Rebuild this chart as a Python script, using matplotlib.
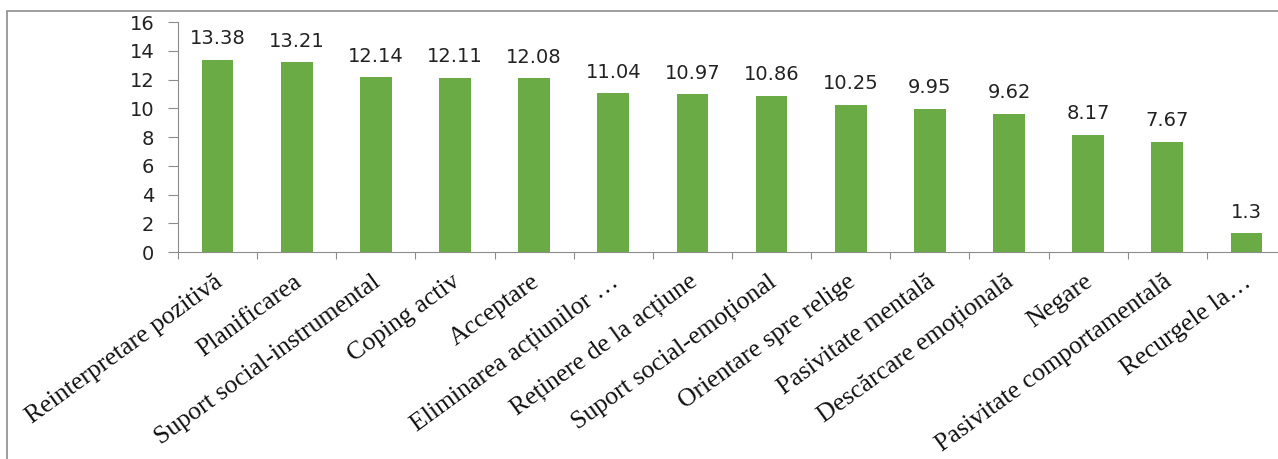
import matplotlib.pyplot as plt
from matplotlib.patches import Rectangle

# Data
categories = ['Reinterpretare pozitivă', 'Planificarea', 'Suport social-instrumental',
              'Coping activ', 'Acceptare', 'Eliminarea acțiunilor …', 'Reținere de la acțiune',
              'Suport social-emoțional', 'Orientare spre relige', 'Pasivitate mentală',
              'Descărcare emoțională', 'Negare', 'Pasivitate comportamentală', 'Recurgele la…']
values = [13.38, 13.21, 12.14, 12.11, 12.08, 11.04, 10.97, 10.86, 10.25, 9.95, 9.62, 8.17, 7.67, 1.3]
value_labels = ['13.38', '13.21', '12.14', '12.11', '12.08', '11.04', '10.97', '10.86',
                '10.25', '9.95', '9.62', '8.17', '7.67', '1.3']
yticks = [0, 2, 4, 6, 8, 10, 12, 14, 16]

W, H = 1278, 459
fig = plt.figure(figsize=(W / 100, H / 100), dpi=100)
fig.patch.set_facecolor('white')

# outer chart frame (cropped on right / bottom)
fig.patches.append(Rectangle((7 / W, -0.1), 1.2, 1.1 - 11 / H, transform=fig.transFigure,
                             fill=False, edgecolor='#8c8c8c', linewidth=1.2))

left, right = 178, 1286
top, bottom = 22, 252
ax = fig.add_axes([left / W, 1 - bottom / H, (right - left) / W, (bottom - top) / H])

x = range(len(values))
ax.bar(x, values, width=0.4, color='#6aab46')
for i, v in enumerate(values):
    ax.text(i, v + 0.8, value_labels[i], ha='center', va='bottom',
            fontsize=14, color='#222222', family='DejaVu Sans')

ax.set_xlim(-0.5, len(values) - 0.5)
ax.set_ylim(0, 16)
ax.set_yticks(yticks)
ax.set_yticklabels([str(t) for t in yticks], fontsize=14, family='DejaVu Sans')

# category boundary ticks
ax.set_xticks([i - 0.5 for i in range(len(values) + 1)])
ax.set_xticklabels([])
ax.tick_params(axis='x', direction='out', length=5, color='#8c8c8c')
ax.tick_params(axis='y', direction='out', length=7, color='#8c8c8c', pad=10, labelcolor='#222222')

for i, c in enumerate(categories):
    ax.text(i - 0.05, -1.3, c, rotation=36, rotation_mode='anchor', ha='right', va='top',
            fontsize=18.5, family='Liberation Serif', color='#111111')

for s in ['top', 'right']:
    ax.spines[s].set_visible(False)
ax.spines['left'].set_color('#8c8c8c')
ax.spines['bottom'].set_color('#8c8c8c')

fig.savefig('out.png', dpi=100)
